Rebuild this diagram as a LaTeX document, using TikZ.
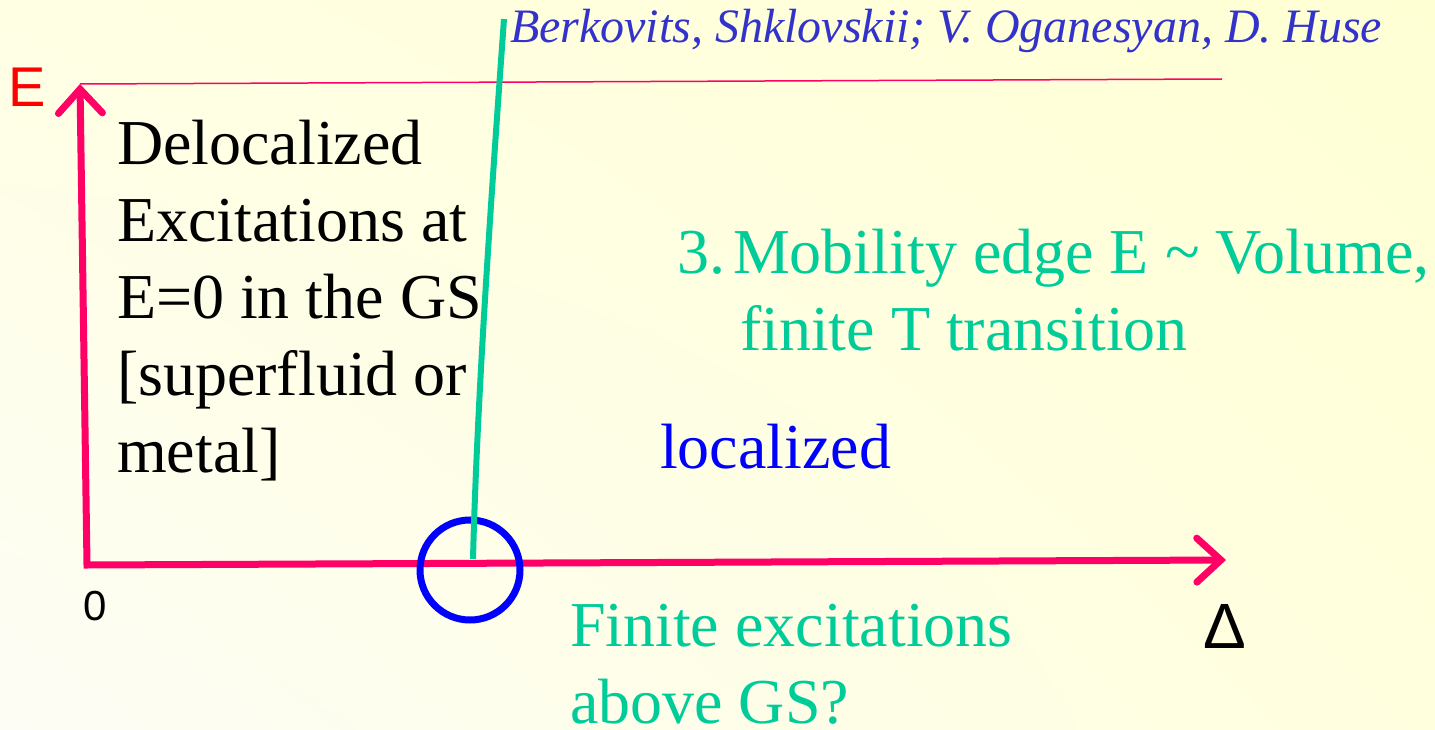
\documentclass[tikz,border=0pt]{standalone}
\usepackage{fontspec}
\setmainfont{Liberation Serif}
\newfontfamily\arialfont{Liberation Sans}
\usetikzlibrary{arrows.meta,shadings}
\definecolor{axispink}{RGB}{255,0,102}
\definecolor{labelred}{RGB}{255,0,0}
\definecolor{citeblue}{RGB}{51,51,204}
\definecolor{mintgreen}{RGB}{0,204,153}
\definecolor{pureblue}{RGB}{0,0,255}
\definecolor{bgUL}{RGB}{255,255,228}
\definecolor{bgUR}{RGB}{255,255,212}
\definecolor{bgLL}{RGB}{253,253,245}
\definecolor{bgLR}{RGB}{255,255,222}
\tikzset{
  axisline/.style={draw=axispink, line width=7pt, line join=miter,
    arrows={Straight Barb[length=24pt, width=44pt, line cap=round]-Straight Barb[length=24pt, width=44pt, line cap=round]}},
  txt/.style={anchor=base west, inner sep=0pt, outer sep=0pt, align=left},
  serifbig/.style={font=\fontsize{64}{77}\selectfont},
}
\begin{document}
\begin{tikzpicture}[x=1pt,y=-1pt]
\useasboundingbox (0,0) rectangle (1435,730);
\shade[upper left=bgUL, upper right=bgUR, lower left=bgLL, lower right=bgLR] (0,0) rectangle (1435,730);

% axes
\coordinate (O) at (87,565);
\coordinate (Etip) at (80,84);
\coordinate (Dtip) at (1226,560);
\coordinate (topend) at (1222,79);
\draw[axispink, line width=1.5pt] (Etip) -- (topend);
\draw[axisline] (Etip) -- (O) -- (Dtip);

% critical point circle and green boundary
\node[draw=pureblue, line width=7pt, circle, minimum size=100pt, inner sep=0pt] (crit) at (470,570) {};
\coordinate (gbot) at (473,559);
\coordinate (gtop) at (504,19);
\draw[mintgreen, line width=6pt] (gbot) .. controls (477,400) and (491,200) .. (gtop);

% labels
\node[txt, font=\arialfont\fontsize{56}{60}\selectfont, text=labelred] (Elab) at (9,107) {E};
\node[txt, font=\arialfont\fontsize{42}{50}\selectfont, text=black] (zero) at (83,620) {0};
\node[txt, font=\arialfont\fontsize{64}{70}\selectfont, text=black] (Dlab) at (1203,648) {Δ};

\node[txt, font=\fontsize{48}{55}\selectfont\itshape, text=citeblue] (refs) at (510,43) {Berkovits, Shklovskii; V. Oganesyan, D. Huse};

\node[txt, serifbig, text=black] (deloc) at (117,472) {Delocalized\\Excitations at\\E=0 in the GS\\{[}superfluid or\\metal{]}};

\node[txt, serifbig, text=mintgreen] (mob) at (677,350) {3.\hspace{8pt}Mobility edge E \textasciitilde{} Volume,\\\hspace*{63pt}finite T transition};

\node[txt, serifbig, text=pureblue] (loc) at (660,468) {localized};

\node[txt, serifbig, text=mintgreen] (fin) at (570,723) {Finite excitations\\above GS?};
\end{tikzpicture}
\end{document}
